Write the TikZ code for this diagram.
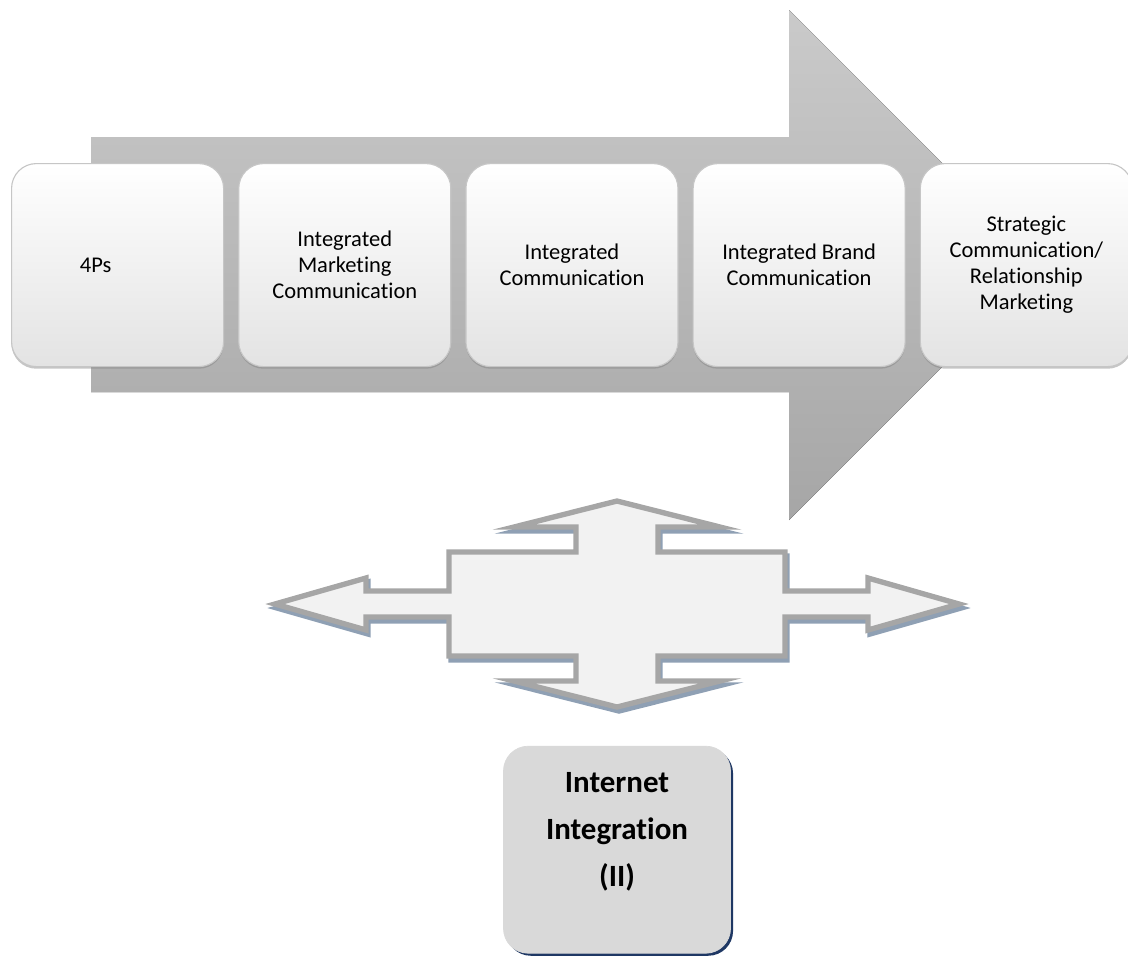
\documentclass[tikz,border=0pt]{standalone}
\usepackage{fontspec}
\setmainfont[Ligatures=NoCommon]{Carlito}
\usetikzlibrary{positioning,shadows}

\definecolor{arrowtop}{RGB}{202,202,202}
\definecolor{arrowbot}{RGB}{166,166,166}
\definecolor{crossfill}{RGB}{242,242,242}
\definecolor{crossline}{RGB}{166,166,166}
\definecolor{crossshadow}{RGB}{143,160,180}
\definecolor{iifill}{RGB}{217,217,217}
\definecolor{iishadow}{RGB}{31,56,100}

\tikzset{
  stepbox/.style={rounded corners=0.62cm, minimum width=5.3cm, minimum height=5.075cm,
    inner sep=0pt, top color=white, bottom color=gray!22, draw=gray!45, line width=0.8pt,
    align=center, text=black, font=\fontsize{16}{18.5}\selectfont,
    drop shadow={shadow xshift=0pt, shadow yshift=-1.5pt, opacity=0.45}},
  crossarrow/.style={fill=crossfill, draw=crossline, line width=3.8pt, line join=miter},
  crossshade/.style={fill=crossshadow, draw=crossshadow, line width=3.8pt, line join=miter},
  iibox/.style={rounded corners=0.62cm, minimum width=5.675cm, minimum height=5.175cm,
    fill=iifill, draw=gray!30, line width=0.5pt,
    drop shadow={fill=iishadow, opacity=1, shadow xshift=1.8pt, shadow yshift=-1.8pt}},
  iitext/.style={align=center, text=black, font=\bfseries\fontsize{22}{33.5}\selectfont}
}

\begin{document}
\begin{tikzpicture}[x=0.025cm, y=-0.025cm]
  \useasboundingbox (0,0) rectangle (1128,956);

  \fill[top color=arrowtop, bottom color=arrowbot] (91,137) -- (789,137) -- (789,10) -- (1044,265)
    -- (789,520) -- (789,392) -- (91,392) -- cycle;

  \node[stepbox, anchor=north west] (b4p) at (11,163) {4Ps\hspace*{1.1cm}};
  \node[stepbox, right=0.35cm of b4p] (bimc) {Integrated\\Marketing\\Communication};
  \node[stepbox, right=0.35cm of bimc] (bic) {Integrated\\Communication};
  \node[stepbox, right=0.35cm of bic] (bibc) {Integrated Brand\\Communication};
  \node[stepbox, right=0.35cm of bibc] (bsc) {Strategic\\Communication/\\Relationship\\Marketing};

  \begin{scope}[shift={(617,604)}]
    \coordinate (crossS) at (0,105);
    \foreach \dx/\dy/\st in {2/4/crossshade, 0/0/crossarrow}
      \draw[\st, shift={(\dx,\dy)}] (0,-103) -- (103,-77) -- (41,-77) -- (41,-52) -- (168,-52)
        -- (168,-13) -- (251,-13) -- (251,-26) -- (342,0) -- (251,26) -- (251,13) -- (168,13)
        -- (168,52) -- (41,52) -- (41,77) -- (103,77) -- (0,103) -- (-103,77) -- (-41,77)
        -- (-41,52) -- (-168,52) -- (-168,13) -- (-251,13) -- (-251,26) -- (-342,0)
        -- (-251,-26) -- (-251,-13) -- (-168,-13) -- (-168,-52) -- (-41,-52) -- (-41,-77)
        -- (-103,-77) -- cycle;
  \end{scope}

  \node[iibox, below=0.92cm of crossS] (ii) {};
  \node[iitext] (iilabel) at ([yshift=0.45cm]ii.center) {Internet\\Integration\\(II)};
\end{tikzpicture}
\end{document}
